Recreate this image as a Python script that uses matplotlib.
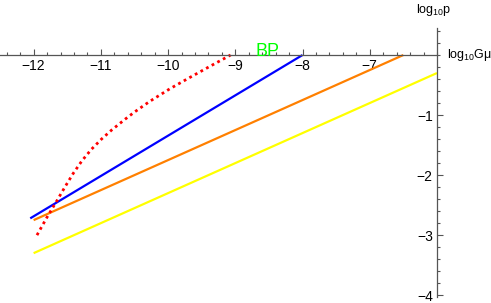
import matplotlib
matplotlib.use("Agg")
import matplotlib.pyplot as plt
from matplotlib.ticker import MultipleLocator

plt.rcParams["font.family"] = ["Liberation Sans", "DejaVu Sans"]
plt.rcParams["mathtext.fontset"] = "custom"
plt.rcParams["mathtext.rm"] = "Liberation Sans"
plt.rcParams["mathtext.it"] = "Liberation Sans"

# values (log10 G mu, log10 p)
blue_x = [-12.05, -8.0]
blue_y = [-2.72, 0.0]
orange_x = [-12.0, -6.5]
orange_y = [-2.75, 0.0]
yellow_x = [-12.0, -6.0]
yellow_y = [-3.3, -0.3]
red_x = [-11.95, -11.80, -11.65, -11.53, -11.41, -11.28, -11.14, -10.99,
         -10.84, -10.64, -10.50, -10.27, -9.97, -9.67, -9.38, -9.07]
red_y = [-3.00, -2.70, -2.42, -2.19, -1.97, -1.76, -1.57, -1.40,
         -1.25, -1.07, -0.95, -0.77, -0.56, -0.37, -0.19, 0.0]

x_ticks = [-12, -11, -10, -9, -8, -7]
y_ticks = [-4, -3, -2, -1]

fig = plt.figure(figsize=(4.91, 3.03), dpi=100)
ax = fig.add_axes([0.0, 0.0198, 0.890, 0.8878])
ax.set_xlim(-12.5, -6.0)
ax.set_ylim(-4.03, 0.45)

ax.plot(blue_x, blue_y, color="#0000FF", lw=1.6, solid_capstyle="butt")
ax.plot(orange_x, orange_y, color="#FF8000", lw=1.6, solid_capstyle="butt")
ax.plot(yellow_x, yellow_y, color="#FFFF00", lw=1.6, solid_capstyle="butt")
ax.plot(red_x, red_y, color="#FF0000", lw=2.0, linestyle=(0, (1.0, 1.3)))

ax.text(-8.52, 0.06, "BP", color="#00FF00", fontsize=13, ha="center", va="center")

# Mathematica-style crossing axes
for s in ["top", "right"]:
    ax.spines[s].set_visible(False)
ax.spines["bottom"].set_position(("data", 0))
ax.spines["left"].set_position(("data", -6.0))
for s in ["bottom", "left"]:
    ax.spines[s].set_color("#555555")
    ax.spines[s].set_linewidth(0.9)

ax.set_xticks(x_ticks)
ax.set_xticklabels([f"\u2212{abs(v)}" for v in x_ticks])
ax.set_yticks(y_ticks)
ax.set_yticklabels([f"\u2212{abs(v)}" for v in y_ticks])
ax.xaxis.set_minor_locator(MultipleLocator(0.2))
ax.yaxis.set_minor_locator(MultipleLocator(0.2))
ax.tick_params(which="both", direction="in", color="#555555", labelsize=10, width=0.8)
ax.tick_params(which="major", length=4.5, pad=3)
ax.tick_params(which="minor", length=2.5)

ax.text(-5.85, 0.0, r"log$_{10}$G$\mu$", fontsize=9, ha="left", va="center", clip_on=False)
ax.text(-6.05, 0.75, r"log$_{10}$p", fontsize=9, ha="center", va="center", clip_on=False)

fig.savefig("out.png", dpi=100)
